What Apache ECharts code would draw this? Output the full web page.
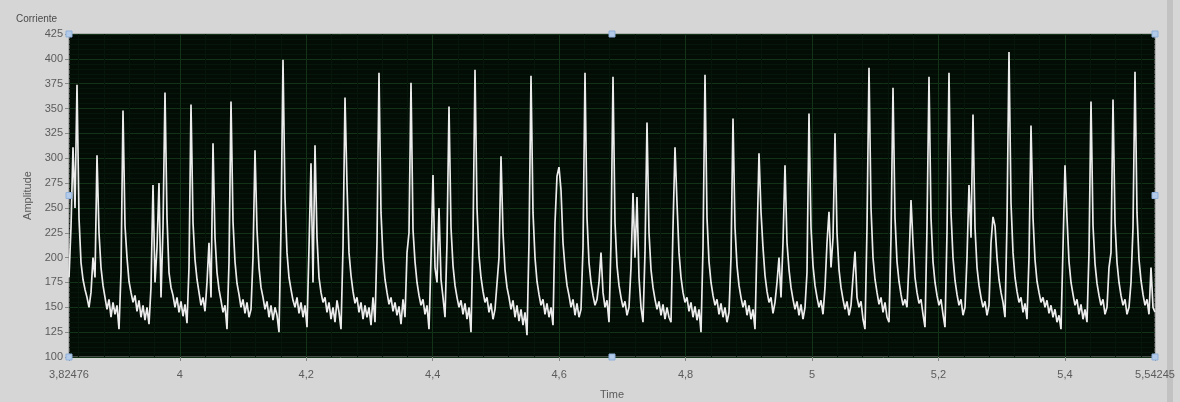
<!DOCTYPE html>
<html>
<head>
<meta charset="utf-8">
<script src="https://cdn.jsdelivr.net/npm/echarts@6/dist/echarts.min.js"></script>
<style>
html,body{margin:0;padding:0;background:#ffffff;}
#chart{width:1180px;height:402px;}
</style>
</head>
<body>
<div id="chart"></div>
<script>
// ---- data ----
const chartTitle = 'Corriente';
const xName = 'Time';
const yName = 'Amplitude';
const T_START = 3.82476;
const T_END = 5.54245;
const xTickValues = [3.82476, 4, 4.2, 4.4, 4.6, 4.8, 5, 5.2, 5.4, 5.54245];
const xMajorGrid = [4, 4.2, 4.4, 4.6, 4.8, 5, 5.2, 5.4];
const yMin = 100, yMax = 425, yStep = 25;
// waveform samples (uniformly spaced from T_START to T_END)
const amplitude = [
180,231,311,250,374,240,195,178,168,160,
150,165,200,180,303,225,190,172,160,148,
158,140,155,143,152,128,185,348,232,200,
176,165,155,162,146,157,140,152,137,150,
133,170,273,175,210,275,160,230,366,240,
185,170,162,150,160,145,156,141,153,134,
190,354,235,198,178,165,152,160,146,175,
215,160,315,220,185,168,157,145,152,128,
195,357,236,196,174,163,150,158,144,155,
140,148,200,308,228,190,170,160,148,156,
140,152,137,150,142,125,230,399,260,205,
180,168,157,150,160,144,155,140,152,130,
210,295,175,313,220,180,165,155,160,145,
155,138,150,135,157,145,128,210,361,273,
205,182,166,154,160,145,155,138,152,140,
150,132,160,135,215,386,245,200,178,165,
153,160,146,155,142,151,133,158,140,205,
225,376,228,196,175,162,152,158,143,152,
128,200,283,190,175,250,178,160,140,215,
352,230,192,172,160,150,157,143,154,138,
150,125,220,389,250,202,180,166,155,160,
145,154,138,148,150,200,302,225,188,170,
160,148,157,140,152,136,148,132,145,122,
215,383,245,200,176,163,152,158,143,154,
140,150,132,235,282,291,268,215,190,172,
162,150,158,142,154,140,148,210,386,240,
195,175,162,152,158,175,205,165,150,157,
135,215,382,235,192,172,160,150,156,142,
150,190,265,200,261,180,150,135,205,336,
225,188,170,158,148,156,142,153,138,150,
140,135,230,311,255,205,180,165,155,160,
146,155,140,151,137,148,125,210,384,240,
196,175,162,152,158,143,154,140,150,135,
145,200,340,230,192,172,160,150,157,142,
152,138,148,128,215,305,246,210,182,166,
155,160,144,155,175,200,160,215,293,215,
188,170,158,148,156,142,153,138,150,185,
345,230,192,172,160,150,157,143,170,215,
246,190,220,325,225,188,170,158,148,156,
142,152,180,206,160,150,156,138,128,230,
391,250,200,178,165,153,160,145,155,140,
135,220,371,240,196,176,163,152,158,150,
195,258,215,180,165,154,158,143,130,230,
382,240,196,175,162,152,158,143,130,225,
386,245,200,177,163,152,158,142,150,200,
273,220,344,230,190,172,160,150,156,142,
152,215,241,232,200,178,165,155,140,235,
407,255,205,180,166,155,160,145,154,138,
200,333,240,198,176,165,155,160,150,157,
144,152,140,148,135,142,128,210,293,240,
196,175,163,152,158,143,153,138,148,135,
205,357,232,194,174,162,152,158,143,150,
190,205,359,235,195,175,162,152,158,143,
150,175,230,387,245,198,177,163,152,158,
143,190,150,145
];

// ---- build ----
const dt = (T_END - T_START) / (amplitude.length - 1);
const seriesData = amplitude.map((v, i) => [T_START + i * dt, v]);
const minorGrid = [];
for (let k = 0; k < 60; k++) {
  const v = Math.round((3.84 + k * 0.04) * 100) / 100;
  if (v > T_START && v < T_END && xMajorGrid.indexOf(v) < 0) minorGrid.push(v);
}
const fmt = v => String(Math.round(v * 100000) / 100000).replace('.', ',');

const chart = echarts.init(document.getElementById('chart'), null, {renderer: 'canvas'});
const labelColor = '#5b5b5b';
const fontFam = '"Liberation Sans", "DejaVu Sans", sans-serif';
const majorCol = '#133318';
const minorCol = '#07160a';

chart.setOption({
  backgroundColor: '#d6d6d6',
  animation: false,
  title: {
    text: chartTitle, left: 11, top: 9,
    textStyle: {fontSize: 10, fontWeight: 'normal', color: '#4a4a4a', fontFamily: fontFam}
  },
  grid: {left: 69, right: 25, top: 34, bottom: 45, show: true, outerBoundsMode: 'none',
         containLabel: false,
         backgroundColor: '#030c05', borderColor: '#8c8c8c', borderWidth: 1},
  xAxis: {
    type: 'value', min: T_START, max: T_END,
    name: xName, nameLocation: 'middle', nameGap: 32,
    nameTextStyle: {fontSize: 11, color: labelColor, fontFamily: fontFam},
    axisLine: {show: false},
    axisTick: {show: true, customValues: xTickValues, length: 4, lineStyle: {color: '#8a8a8a'}},
    axisLabel: {customValues: xTickValues, formatter: fmt, fontSize: 11, color: labelColor,
                margin: 12, fontFamily: fontFam},
    splitLine: {show: false}
  },
  yAxis: {
    type: 'value', min: yMin, max: yMax, interval: yStep,
    name: yName, nameLocation: 'middle', nameGap: 35, nameRotate: 90,
    nameTextStyle: {fontSize: 11, color: labelColor, fontFamily: fontFam},
    axisLine: {show: false},
    axisTick: {show: true, length: 4, lineStyle: {color: '#8a8a8a'}},
    axisLabel: {fontSize: 11, color: labelColor, margin: 6, fontFamily: fontFam},
    splitLine: {show: true, lineStyle: {color: majorCol, width: 1}},
    minorTick: {show: false, splitNumber: 5},
    minorSplitLine: {show: true, lineStyle: {color: minorCol, width: 1}}
  },
  series: [{
    type: 'line',
    data: seriesData,
    showSymbol: false,
    symbol: 'none',
    lineStyle: {color: '#ececec', width: 1.7},
    z: 5,
    markLine: {
      silent: true, symbol: 'none', animation: false,
      label: {show: false},
      data: minorGrid.map(v => ({xAxis: v, lineStyle: {color: minorCol, width: 1, type: 'solid'}}))
        .concat(xMajorGrid.map(v => ({xAxis: v, lineStyle: {color: majorCol, width: 1, type: 'solid'}})))
    }
  }]
});

// resize handles at grid corners / midpoints, computed through the scales
const xMid = (T_START + T_END) / 2, yMid = (yMin + yMax) / 2;
const handlePts = [[T_START, yMax], [xMid, yMax], [T_END, yMax], [T_START, yMid],
                   [T_END, yMid], [T_START, yMin], [xMid, yMin], [T_END, yMin]];
const handles = handlePts.map(p => {
  const px = chart.convertToPixel({gridIndex: 0}, p);
  return {type: 'rect', shape: {x: px[0] - 3, y: px[1] - 3, width: 6, height: 6},
          style: {fill: '#b3cbe8', stroke: '#8fb0da', lineWidth: 1}, z: 100};
});
handles.push({type: 'rect', left: 1167, top: 0, shape: {width: 6, height: 402},
              style: {fill: '#c2c2c2'}, z: -1});
chart.setOption({graphic: handles});
</script>
</body>
</html>
